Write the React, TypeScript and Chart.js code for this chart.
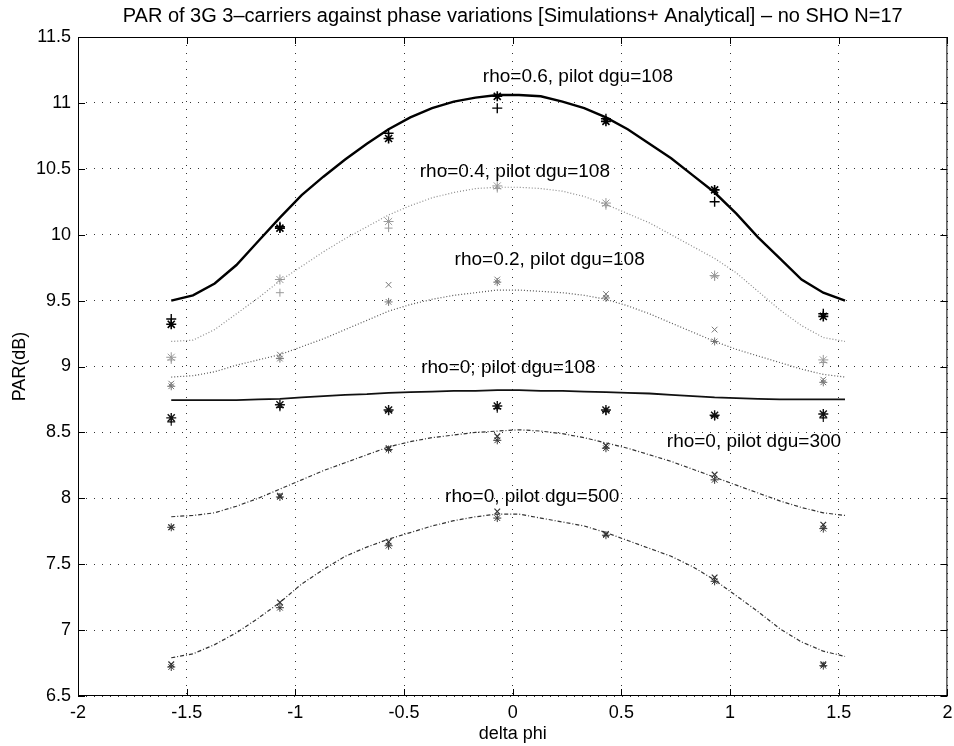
import React, { useEffect, useRef } from "react";
import { Chart, registerables } from "chart.js";

Chart.register(...registerables);

const TITLE = "PAR of 3G 3\u2013carriers against phase variations [Simulations+ Analytical] \u2013 no SHO N=17";
const X_TITLE = "delta phi";
const Y_TITLE = "PAR(dB)";

// analytical curve abscissae (delta phi)
const PHI_CURVE = [
  -1.571, -1.471, -1.371, -1.271, -1.171, -1.071, -0.971, -0.871, -0.771, -0.671, -0.571,
  -0.471, -0.371, -0.271, -0.171, -0.071, 0.029, 0.129, 0.229, 0.329, 0.429, 0.529,
  0.629, 0.729, 0.829, 0.929, 1.029, 1.129, 1.229, 1.329, 1.429, 1.529,
];
// simulation abscissae
const PHI_SIM = [-1.571, -1.071, -0.571, -0.071, 0.429, 0.929, 1.429];

// analytical curves
const RHO06_108 = [
  9.5, 9.54, 9.63, 9.77, 9.95, 10.13, 10.3, 10.44, 10.57, 10.69, 10.8,
  10.89, 10.96, 11.01, 11.04, 11.06, 11.06, 11.05, 11.01, 10.96, 10.89, 10.8,
  10.69, 10.58, 10.45, 10.32, 10.16, 9.98, 9.82, 9.66, 9.56, 9.5,
];
const RHO04_108 = [
  9.19, 9.2, 9.28, 9.4, 9.52, 9.65, 9.76, 9.87, 9.97, 10.06, 10.15,
  10.22, 10.28, 10.32, 10.35, 10.36, 10.36, 10.35, 10.33, 10.29, 10.23, 10.16,
  10.09, 10.0, 9.91, 9.82, 9.71, 9.57, 9.43, 9.31, 9.22, 9.19,
];
const RHO02_108 = [
  8.92, 8.93, 8.96, 9.01, 9.05, 9.09, 9.15, 9.21, 9.28, 9.35, 9.42,
  9.47, 9.51, 9.54, 9.56, 9.58, 9.58, 9.57, 9.56, 9.54, 9.51, 9.46,
  9.4, 9.33, 9.26, 9.19, 9.13, 9.08, 9.03, 8.98, 8.94, 8.92,
];
const RHO0_108 = [
  8.745, 8.745, 8.745, 8.745, 8.75, 8.755, 8.765, 8.775, 8.785, 8.79, 8.8,
  8.805, 8.81, 8.815, 8.815, 8.82, 8.82, 8.815, 8.815, 8.81, 8.805, 8.8,
  8.795, 8.785, 8.775, 8.765, 8.76, 8.755, 8.75, 8.75, 8.75, 8.75,
];
const RHO0_300 = [
  7.86, 7.87, 7.89, 7.94, 8.0, 8.07, 8.14, 8.21, 8.27, 8.33, 8.39,
  8.43, 8.46, 8.48, 8.5, 8.51, 8.52, 8.51, 8.49, 8.46, 8.42, 8.38,
  8.33, 8.28, 8.22, 8.16, 8.1, 8.04, 7.98, 7.93, 7.89, 7.87,
];
const RHO0_500 = [
  6.79, 6.82, 6.89, 6.98, 7.09, 7.21, 7.35, 7.46, 7.56, 7.63, 7.69,
  7.74, 7.79, 7.83, 7.86, 7.88, 7.88, 7.85, 7.82, 7.79, 7.74, 7.68,
  7.62, 7.56, 7.48, 7.38, 7.26, 7.14, 7.01, 6.91, 6.84, 6.8,
];

// simulation points (two runs each)
const SIM06_A = [9.32, 10.05, 10.73, 11.05, 10.86, 10.34, 9.38];
const SIM06_B = [9.36, 10.06, 10.77, 10.96, 10.88, 10.25, 9.4];
const SIM04_A = [9.07, 9.66, 10.1, 10.37, 10.24, 9.69, 9.05];
const SIM04_B = [9.05, 9.56, 10.05, 10.35, 10.22, 9.68, 9.03];
const SIM02_A = [8.87, 9.09, 9.62, 9.66, 9.55, 9.28, 8.9];
const SIM02_B = [8.85, 9.06, 9.49, 9.64, 9.52, 9.19, 8.88];
const SIM0_108_A = [8.61, 8.71, 8.67, 8.7, 8.67, 8.63, 8.64];
const SIM0_108_B = [8.58, 8.69, 8.66, 8.68, 8.66, 8.62, 8.61];
const SIM0_300_A = [7.78, 8.02, 8.38, 8.47, 8.4, 8.18, 7.8];
const SIM0_300_B = [7.78, 8.01, 8.37, 8.44, 8.38, 8.14, 7.77];
const SIM0_500_A = [6.74, 7.21, 7.67, 7.9, 7.73, 7.4, 6.74];
const SIM0_500_B = [6.72, 7.17, 7.64, 7.85, 7.72, 7.37, 6.73];

// curve annotations: text, x (delta phi), y (dB)
const LABEL_TEXT = [
  "rho=0.6, pilot dgu=108",
  "rho=0.4, pilot dgu=108",
  "rho=0.2, pilot dgu=108",
  "rho=0; pilot dgu=108",
  "rho=0, pilot dgu=300",
  "rho=0, pilot dgu=500",
];
const LABEL_X = [0.3, 0.01, 0.17, -0.02, 1.11, 0.09];
const LABEL_Y = [11.2, 10.48, 9.81, 8.99, 8.43, 8.01];

const X_MIN = -2, X_MAX = 2, Y_MIN = 6.5, Y_MAX = 11.5, STEP = 0.5;

const FONT = "'Liberation Sans', Arial, Helvetica, sans-serif";

const pts = (xs: number[], ys: number[]) => xs.map((x, i) => ({ x, y: ys[i] }));

const curve = (label: string, ys: number[], color: string, width: number, dash: number[]) => ({
  label,
  data: pts(PHI_CURVE, ys),
  showLine: true,
  borderColor: color,
  borderWidth: width,
  borderDash: dash,
  pointRadius: 0,
  pointHoverRadius: 0,
  fill: false,
  tension: 0,
});

const sim = (label: string, ys: number[], color: string, style: string, r: number, w: number) => ({
  label,
  data: pts(PHI_SIM, ys),
  showLine: false,
  pointStyle: style,
  pointRadius: r,
  borderColor: color,
  backgroundColor: color,
  borderWidth: w,
});

const framePlugin = {
  id: "frame",
  afterDatasetsDraw(chart: any) {
    const { ctx, chartArea: a, scales } = chart;
    ctx.save();
    ctx.strokeStyle = "#000";
    ctx.lineWidth = 1;
    ctx.setLineDash([]);
    ctx.strokeRect(a.left + 0.5, a.top + 0.5, a.right - a.left - 1, a.bottom - a.top - 1);
    const t = 7;
    ctx.beginPath();
    for (let v = X_MIN; v <= X_MAX + 1e-9; v += STEP) {
      const px = Math.round(scales.x.getPixelForValue(v)) + 0.5;
      ctx.moveTo(px, a.bottom);
      ctx.lineTo(px, a.bottom - t);
      ctx.moveTo(px, a.top);
      ctx.lineTo(px, a.top + t);
    }
    for (let v = Y_MIN; v <= Y_MAX + 1e-9; v += STEP) {
      const py = Math.round(scales.y.getPixelForValue(v)) + 0.5;
      ctx.moveTo(a.left, py);
      ctx.lineTo(a.left + t, py);
      ctx.moveTo(a.right, py);
      ctx.lineTo(a.right - t, py);
    }
    ctx.stroke();
    ctx.fillStyle = "#000";
    ctx.textAlign = "center";
    ctx.textBaseline = "middle";
    // title, centred over the axes
    ctx.font = `20px ${FONT}`;
    ctx.fillText(TITLE, (a.left + a.right) / 2, 16);
    // annotations
    ctx.font = `19px ${FONT}`;
    LABEL_TEXT.forEach((txt, i) => {
      ctx.fillText(txt, scales.x.getPixelForValue(LABEL_X[i]), scales.y.getPixelForValue(LABEL_Y[i]));
    });
    ctx.restore();
  },
};

export default function App() {
  const ref = useRef<HTMLCanvasElement | null>(null);

  useEffect(() => {
    document.body.style.margin = "0";
    const canvas = ref.current;
    if (!canvas) return;
    const chart = new Chart(canvas, {
      type: "scatter",
      data: {
        datasets: [
          curve("rho=0.6", RHO06_108, "#000", 2.4, []),
          curve("rho=0.4", RHO04_108, "#8a8a8a", 1.2, [1, 2]),
          curve("rho=0.2", RHO02_108, "#555", 1.2, [1, 2]),
          curve("rho=0 dgu108", RHO0_108, "#111", 1.8, []),
          curve("rho=0 dgu300", RHO0_300, "#333", 1.2, [4, 2, 1, 2]),
          curve("rho=0 dgu500", RHO0_500, "#333", 1.2, [4, 2, 1, 2]),
          sim("sim 0.6 a", SIM06_A, "#000", "star", 5, 1.6),
          sim("sim 0.6 b", SIM06_B, "#000", "cross", 5, 1.4),
          sim("sim 0.4 a", SIM04_A, "#999", "star", 5, 1),
          sim("sim 0.4 b", SIM04_B, "#999", "cross", 4, 1),
          sim("sim 0.2 a", SIM02_A, "#777", "crossRot", 4, 1),
          sim("sim 0.2 b", SIM02_B, "#777", "star", 4, 1),
          sim("sim 0 108 a", SIM0_108_A, "#111", "star", 5, 1.4),
          sim("sim 0 108 b", SIM0_108_B, "#111", "cross", 4, 1.2),
          sim("sim 0 300 a", SIM0_300_A, "#333", "crossRot", 4, 1.2),
          sim("sim 0 300 b", SIM0_300_B, "#333", "star", 4, 1),
          sim("sim 0 500 a", SIM0_500_A, "#333", "crossRot", 4, 1.2),
          sim("sim 0 500 b", SIM0_500_B, "#333", "star", 4, 1),
        ],
      },
      options: {
        animation: false,
        responsive: false,
        layout: { padding: { left: 0, right: 6, top: 37, bottom: 0 } },
        plugins: {
          legend: { display: false },
          tooltip: { enabled: false },
          title: { display: false },
        },
        scales: {
          x: {
            type: "linear",
            min: X_MIN,
            max: X_MAX,
            afterFit: (s: any) => {
              s.height = 50;
              s.paddingLeft = 0;
              s.paddingRight = 0;
            },
            ticks: {
              stepSize: STEP,
              color: "#000",
              font: { family: FONT, size: 18 },
              padding: 6,
              maxRotation: 0,
              callback: (v: any) => String(Math.round(Number(v) * 10) / 10),
            },
            grid: { color: "rgba(0,0,0,0.8)", lineWidth: 1, drawTicks: false },
            border: { display: false, dash: [1, 7] },
            title: {
              display: true,
              text: X_TITLE,
              color: "#000",
              font: { family: FONT, size: 18 },
              padding: { top: 0, bottom: 1 },
            },
          },
          y: {
            type: "linear",
            min: Y_MIN,
            max: Y_MAX,
            afterFit: (s: any) => {
              s.width = 78;
              s.paddingTop = 0;
              s.paddingBottom = 0;
            },
            ticks: {
              stepSize: STEP,
              color: "#000",
              font: { family: FONT, size: 18 },
              padding: 7,
              callback: (v: any) => String(Math.round(Number(v) * 10) / 10),
            },
            grid: { color: "rgba(0,0,0,0.8)", lineWidth: 1, drawTicks: false },
            border: { display: false, dash: [1, 7] },
            title: {
              display: true,
              text: Y_TITLE,
              color: "#000",
              font: { family: FONT, size: 18 },
              padding: { top: 9, bottom: 0 },
            },
          },
        },
      } as any,
      plugins: [framePlugin],
    });
    return () => chart.destroy();
  }, []);

  return (
    <div style={{ position: "absolute", left: 0, top: 0, width: 954, height: 746, background: "#fff" }}>
      <canvas ref={ref} width={954} height={746} style={{ display: "block" }} />
    </div>
  );
}
